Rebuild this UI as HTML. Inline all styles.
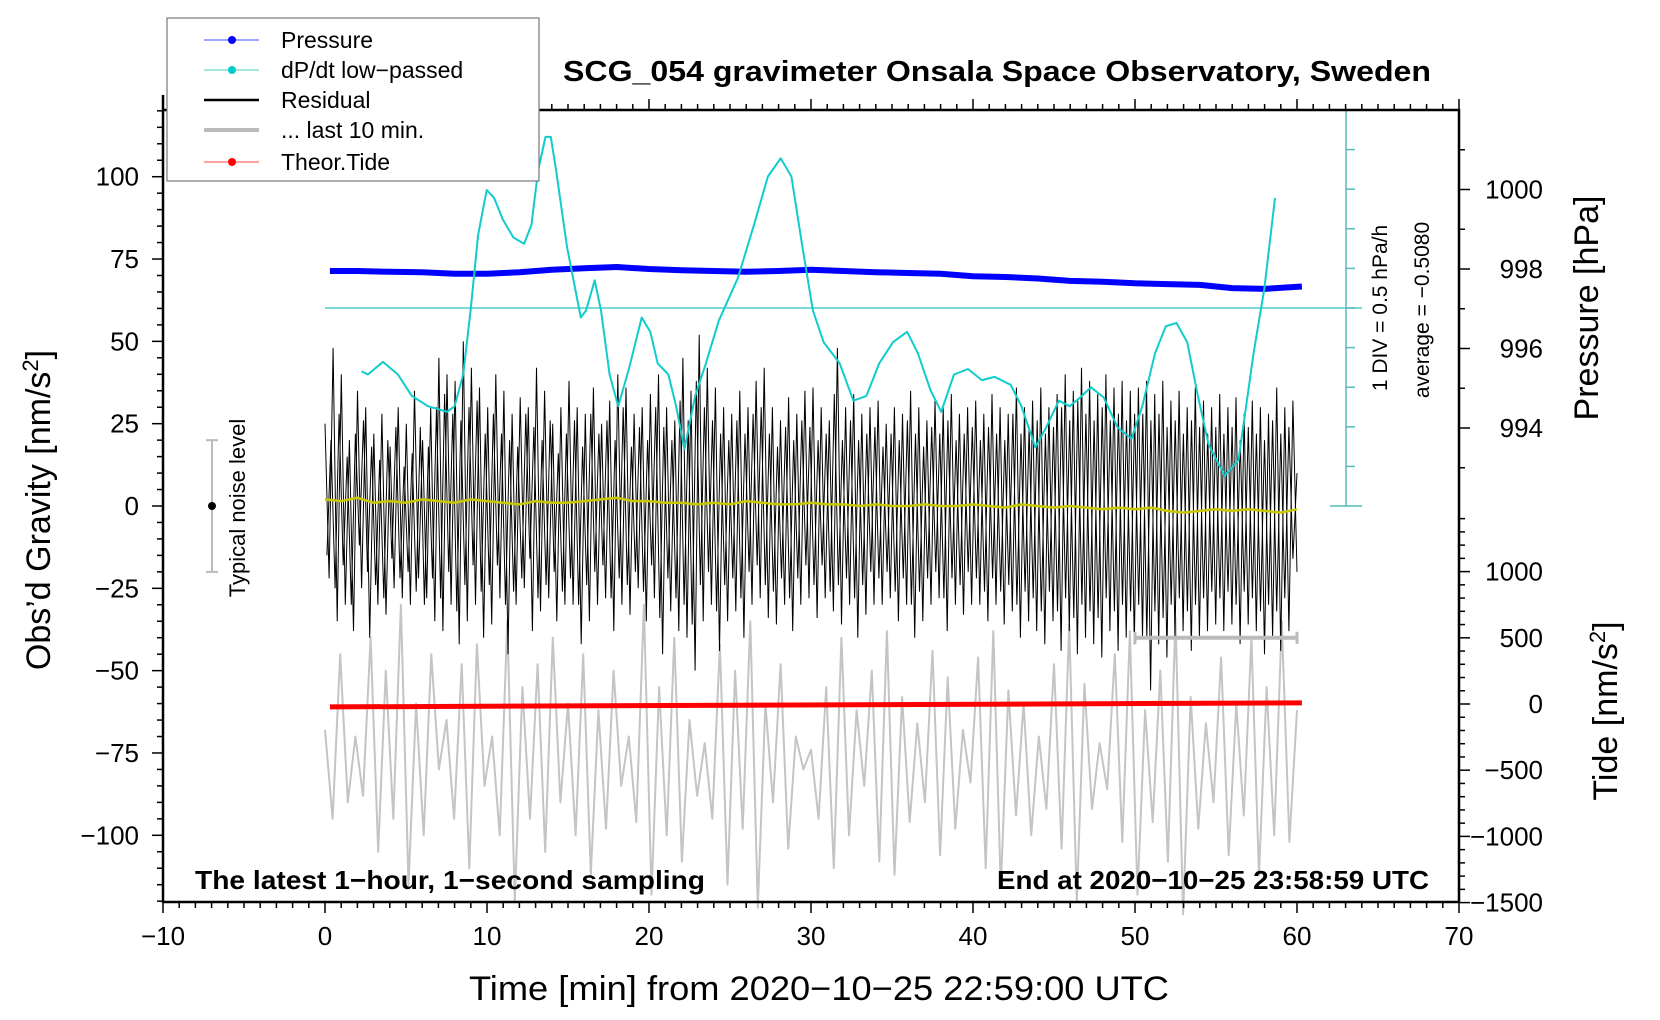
<!DOCTYPE html>
<html><head><meta charset="utf-8"><title>SCG_054 gravimeter</title>
<style>html,body{margin:0;padding:0;background:#fff}svg{display:block;font-family:"Liberation Sans",Arial,sans-serif}</style>
</head><body>
<svg id="chart" width="1660" height="1020" viewBox="0 0 1660 1020" xmlns="http://www.w3.org/2000/svg">
<rect x="0" y="0" width="1660" height="1020" fill="#fff"/>
<g id="marks"></g>
<g id="axes"></g>
<text x="997" y="81" text-anchor="middle" font-size="29" font-weight="bold" textLength="868" lengthAdjust="spacingAndGlyphs">SCG_054 gravimeter Onsala Space Observatory, Sweden</text>
<text x="819" y="1000" text-anchor="middle" font-size="34" textLength="700" lengthAdjust="spacingAndGlyphs">Time [min] from 2020−10−25 22:59:00 UTC</text>
<text transform="translate(50,510) rotate(-90)" text-anchor="middle" font-size="34">Obs’d Gravity [nm/s<tspan baseline-shift="super" font-size="22">2</tspan>]</text>
<text transform="translate(1598,308) rotate(-90)" text-anchor="middle" font-size="34">Pressure [hPa]</text>
<text transform="translate(1617,711) rotate(-90)" text-anchor="middle" font-size="34">Tide [nm/s<tspan baseline-shift="super" font-size="22">2</tspan>]</text>
<text x="195" y="897" font-size="26" font-weight="bold" textLength="510" lengthAdjust="spacingAndGlyphs" dy="-8">The latest 1−hour, 1−second sampling</text>
<text x="1429" y="889" text-anchor="end" font-size="26" font-weight="bold" textLength="432" lengthAdjust="spacingAndGlyphs">End at 2020−10−25 23:58:59 UTC</text>
<text transform="translate(1387,308) rotate(-90)" text-anchor="middle" font-size="21">1 DIV = 0.5 hPa/h</text>
<text transform="translate(1429,310) rotate(-90)" text-anchor="middle" font-size="21">average = −0.5080</text>
<text transform="translate(245,508) rotate(-90)" text-anchor="middle" font-size="22">Typical noise level</text>
<g>
<rect x="167" y="18" width="372" height="163" fill="#fff" stroke="#777" stroke-width="1.2"/>
<g><line x1="204" y1="40" x2="259" y2="40" stroke="#44f" stroke-width="1"/><circle cx="232" cy="40" r="4" fill="#00f"/><text x="281" y="48" font-size="23">Pressure</text></g>
<g><line x1="204" y1="70" x2="259" y2="70" stroke="#4cc" stroke-width="1"/><circle cx="232" cy="70" r="4" fill="#0cc"/><text x="281" y="78" font-size="23">dP/dt low−passed</text></g>
<g><line x1="204" y1="100" x2="259" y2="100" stroke="#000" stroke-width="2.5"/><text x="281" y="108" font-size="23">Residual</text></g>
<g><line x1="204" y1="130" x2="259" y2="130" stroke="#bbb" stroke-width="4"/><text x="281" y="138" font-size="23">... last 10 min.</text></g>
<g><line x1="204" y1="162" x2="259" y2="162" stroke="#f44" stroke-width="1"/><circle cx="232" cy="162" r="4" fill="#f00"/><text x="281" y="170" font-size="23">Theor.Tide</text></g>
</g>
</svg>
<script>
// ---- data ----
const pressureTimes = [0.3,2,4,6,8,10,12,14,16,18,20,22,24,26,28,30,32,34,36,38,40,42,44,46,48,50,52,54,56,58,60.3];
const pressureValues = [997.95,997.95,997.93,997.92,997.88,997.88,997.92,997.98,998.02,998.05,998.0,997.97,997.95,997.93,997.95,997.98,997.95,997.92,997.9,997.88,997.82,997.8,997.76,997.7,997.68,997.64,997.62,997.6,997.52,997.5,997.56];
const dpTimes = [2.26,2.65,3.58,4.5,5.36,6.35,7.54,8.0,8.53,8.99,9.45,9.98,10.44,10.97,11.63,12.29,12.75,13.15,13.61,13.94,14.27,14.93,15.79,16.12,16.65,17.04,17.57,18.1,18.76,19.55,20.08,20.54,21.2,21.67,22.19,22.85,23.51,24.31,25.49,26.48,27.34,28.13,28.79,29.46,30.12,30.78,31.77,32.62,33.42,34.21,35.07,35.93,36.59,37.38,38.04,38.83,39.69,40.55,41.34,42.33,42.99,43.85,44.51,45.3,45.96,46.62,47.28,48.07,48.93,49.79,50.45,51.24,51.9,52.56,53.22,53.88,54.54,55.53,56.39,57.32,57.98,58.64];
const dpValues = [-0.8,-0.84,-0.68,-0.84,-1.11,-1.24,-1.31,-1.24,-0.84,-0.03,0.92,1.49,1.39,1.12,0.89,0.81,1.05,1.73,2.16,2.16,1.73,0.78,-0.12,-0.03,0.35,-0.03,-0.84,-1.24,-0.77,-0.12,-0.3,-0.7,-0.84,-1.24,-1.78,-1.11,-0.7,-0.16,0.38,1.05,1.66,1.89,1.66,0.78,-0.03,-0.43,-0.7,-1.17,-1.11,-0.7,-0.43,-0.3,-0.57,-1.04,-1.31,-0.84,-0.77,-0.91,-0.87,-0.97,-1.24,-1.76,-1.51,-1.17,-1.24,-1.13,-1.0,-1.13,-1.51,-1.65,-1.24,-0.57,-0.23,-0.19,-0.43,-1.11,-1.72,-2.12,-1.92,-0.57,0.24,1.39];
const residualValues = [25,-22,48,-35,40,-30,20,-38,35,-25,30,-40,22,-30,28,-33,18,-25,30,-28,
25,-30,35,-22,20,-28,30,-35,45,-38,40,-30,38,-42,50,-35,42,-30,36,-40,
30,-36,40,-28,35,-45,28,-30,33,-25,30,-38,42,-32,35,-28,25,-35,30,-30,
38,-30,30,-42,28,-35,36,-30,25,-28,32,-38,40,-30,36,-33,28,-25,30,-35,
34,-28,40,-45,30,-32,26,-38,45,-40,35,-50,52,-35,42,-30,36,-44,30,-35,
28,-32,35,-40,30,-30,38,-28,42,-34,30,-36,26,-30,33,-38,28,-30,35,-28,
36,-34,30,-28,26,-32,48,-36,30,-30,34,-40,28,-33,30,-30,32,-30,25,-28,
30,-35,28,-30,35,-40,30,-35,26,-30,32,-28,30,-38,34,-30,28,-33,30,-30,
32,-30,28,-35,34,-30,30,-36,28,-32,36,-40,30,-35,32,-38,36,-42,30,-35,
34,-44,40,-38,35,-45,42,-40,38,-42,34,-46,40,-38,36,-44,38,-40,35,-42,
36,-40,38,-56,34,-42,38,-46,32,-40,35,-38,30,-44,36,-40,32,-38,30,-36,
34,-38,30,-36,33,-42,28,-36,32,-38,30,-45,28,-40,36,-44,30,-38,32,-20];
const residualMidValues = [-15,20,-25,28,-18,15,-30,22,-12,26,-20,18,-24,14,-28,20,-16,24,-22,12,
-20,16,-26,24,-30,18,-22,30,-28,34,-20,28,-32,26,-24,30,-18,32,-26,22,
-24,28,-18,22,-30,20,-26,18,-22,28,-16,24,-28,20,-24,26,-20,16,-26,22,
-22,26,-30,18,-24,28,-20,22,-18,26,-28,20,-22,30,-24,18,-20,24,-26,20,
-18,30,-34,24,-22,20,-28,32,-30,26,-36,38,-24,30,-20,26,-32,22,-24,20,
-22,26,-28,22,-20,28,-18,30,-24,22,-26,18,-22,24,-28,20,-22,26,-18,24,
-24,20,-18,22,-26,34,-24,20,-22,26,-28,20,-24,22,-20,24,-22,18,-20,22,
-26,20,-22,26,-30,22,-26,18,-22,24,-20,22,-28,26,-22,20,-24,22,-20,24,
-22,20,-26,24,-22,22,-26,20,-24,28,-30,22,-26,24,-28,26,-32,22,-26,24,
-32,30,-28,26,-34,32,-30,28,-32,26,-34,30,-28,26,-32,28,-30,26,-32,28,
-30,28,-40,26,-32,28,-34,24,-30,26,-28,22,-32,26,-30,24,-28,22,-26,24,
-28,22,-26,24,-30,20,-26,24,-28,22,-32,20,-30,26,-32,22,-28,24,-16,10];
const smoothValues = [2,1.5,2.5,1,1.5,1,2,1.5,1,2,1.5,1,0.5,1.5,1,1,1.5,2,2.5,1.5,1.5,1,1,0.5,1,0.5,1.5,1,0.5,0.5,1,0.5,0.5,0,0.5,0,0,0.5,0,0,0.5,0,-0.5,0.5,0,-0.5,0,-0.5,-1,-0.5,-1,-0.5,-1.5,-2,-1.5,-1,-1.5,-1,-1.5,-2,-1];
const last10Values = [-68,-95,-45,-90,-70,-88,-40,-105,-50,-95,-30,-115,-60,-100,-45,-80,-65,-95,-48,-110,
-42,-85,-70,-100,-35,-120,-55,-95,-48,-105,-40,-90,-60,-100,-45,-112,-62,-98,-50,-85,
-70,-96,-30,-118,-55,-100,-40,-108,-65,-88,-72,-95,-42,-115,-50,-98,-35,-122,-60,-90,
-48,-104,-70,-80,-74,-95,-55,-110,-40,-100,-62,-85,-50,-108,-38,-112,-58,-96,-66,-90,
-44,-106,-52,-98,-68,-84,-46,-110,-38,-116,-56,-94,-60,-100,-70,-92,-48,-104,-36,-120,
-54,-92,-72,-86,-45,-102,-38,-118,-62,-96,-50,-108,-34,-124,-58,-98,-66,-90,-46,-106,
-60,-94,-40,-112,-55,-100,-35,-102,-62];
const tideTimes = [0.3,60.3];
const tideValues = [-22,8];
const xTicks = [-10,0,10,20,30,40,50,60,70];
const gravityTicks = [-100,-75,-50,-25,0,25,50,75,100];
const pressureTicks = [994,996,998,1000];
const tideTicks = [-1500,-1000,-500,0,500,1000];

// ---- scales ----
const X = t => 325 + 16.2 * t;
const YG = g => 506 - 3.293 * g;
const YP = p => 269 - 39.75 * (p - 998);
const YT = v => 704 - 0.1324 * v;
const YD = v => 308 - 79.2 * v;
const NS = 'http://www.w3.org/2000/svg';
const marks = document.getElementById('marks');
const axes = document.getElementById('axes');
function mk(tag, parent, attrs) { const e = document.createElementNS(NS, tag); for (const k in attrs) e.setAttribute(k, attrs[k]); parent.appendChild(e); return e; }
function pts(ts, vs, yf) { return ts.map((t, i) => X(t).toFixed(1) + ',' + yf(vs[i]).toFixed(1)).join(' '); }
const lin = (n, a, b) => Array.from({length: n}, (_, i) => a + (b - a) * i / (n - 1));

let e = mk('polyline', marks, {points: pts(lin(last10Values.length, 0, 60), last10Values, YG), fill: 'none', stroke: '#c4c4c4', 'stroke-width': 2, 'stroke-linejoin': 'round'});


e = mk('polyline', marks, {points: pts(lin(residualValues.length, 0, 60), residualValues, YG), fill: 'none', stroke: '#000', 'stroke-width': 1});


e = mk('polyline', marks, {points: pts(lin(residualMidValues.length, 0.12, 60), residualMidValues, YG), fill: 'none', stroke: '#000', 'stroke-width': 1});


e = mk('polyline', marks, {points: pts(lin(smoothValues.length, 0, 60), smoothValues, YG), fill: 'none', stroke: '#c8c800', 'stroke-width': 2.5});


e = mk('polyline', marks, {points: pts(tideTimes, tideValues, YT), fill: 'none', stroke: '#f00', 'stroke-width': 5});


e = mk('polyline', marks, {points: pts(pressureTimes, pressureValues, YP), fill: 'none', stroke: '#00f', 'stroke-width': 6, 'stroke-linejoin': 'round'});


e = mk('line', marks, {x1: X(0), y1: YD(0), x2: 1362, y2: YD(0), stroke: '#5cc', 'stroke-width': 1.5});


e = mk('polyline', marks, {points: pts(dpTimes, dpValues, YD), fill: 'none', stroke: '#1cc', 'stroke-width': 2, 'stroke-linejoin': 'round'});


const dg = mk('g', marks, {});


mk('line', dg, {x1: 1346, y1: YD(2.5), x2: 1346, y2: YD(-2.5), stroke: '#5bb', 'stroke-width': 1.5});
mk('line', dg, {x1: 1330, y1: YD(2.5), x2: 1362, y2: YD(2.5), stroke: '#5bb', 'stroke-width': 1.5});
mk('line', dg, {x1: 1330, y1: YD(-2.5), x2: 1362, y2: YD(-2.5), stroke: '#5bb', 'stroke-width': 1.5});
for (let v = -2; v <= 2; v += 0.5) mk('line', dg, {x1: 1346, y1: YD(v), x2: 1355, y2: YD(v), stroke: '#5bb', 'stroke-width': 1.5});
const nb = mk('g', marks, {});


mk('line', nb, {x1: 212, y1: YG(20), x2: 212, y2: YG(-20), stroke: '#bbb', 'stroke-width': 2});
mk('line', nb, {x1: 206, y1: YG(20), x2: 218, y2: YG(20), stroke: '#bbb', 'stroke-width': 2});
mk('line', nb, {x1: 206, y1: YG(-20), x2: 218, y2: YG(-20), stroke: '#bbb', 'stroke-width': 2});
mk('circle', nb, {cx: 212, cy: YG(0), r: 4, fill: '#000'});
const lm = mk('g', marks, {});


mk('line', lm, {x1: X(50), y1: YT(500), x2: X(60), y2: YT(500), stroke: '#bbb', 'stroke-width': 4});
mk('line', lm, {x1: X(50), y1: YT(500) - 6, x2: X(50), y2: YT(500) + 6, stroke: '#bbb', 'stroke-width': 3});
mk('line', lm, {x1: X(60), y1: YT(500) - 6, x2: X(60), y2: YT(500) + 6, stroke: '#bbb', 'stroke-width': 3});

// ---- axes ----
const L = 163, R = 1459, T = 110, B = 902;
mk('line', axes, {x1: L, y1: 95, x2: L, y2: B + 1, stroke: '#000', 'stroke-width': 2.5});
mk('line', axes, {x1: R, y1: T - 1, x2: R, y2: B + 1, stroke: '#000', 'stroke-width': 2.5});
mk('line', axes, {x1: L, y1: T, x2: R, y2: T, stroke: '#000', 'stroke-width': 2.5});
mk('line', axes, {x1: L, y1: B, x2: R, y2: B, stroke: '#000', 'stroke-width': 2.5});
const tk = (x1, y1, x2, y2) => mk('line', axes, {x1, y1, x2, y2, stroke: '#000', 'stroke-width': 1.5});
for (let t = -10; t <= 70; t++) { const len = t % 10 === 0 ? 11 : 6; tk(X(t), B, X(t), B + len); tk(X(t), T, X(t), T - len); }
xTicks.forEach(t => { const s = mk('text', axes, {x: X(t), y: 945, 'text-anchor': 'middle', 'font-size': 26}); s.textContent = String(t).replace('-', '−');   });
for (let g = -120; g <= 120; g += 5) { const len = g % 25 === 0 ? 11 : 6; tk(L - len, YG(g), L, YG(g)); }
gravityTicks.forEach(g => { const s = mk('text', axes, {x: 139, y: YG(g) + 9, 'text-anchor': 'end', 'font-size': 26}); s.textContent = String(g).replace('-', '−');   });
for (let p = 993; p <= 1001; p++) { const len = p % 2 === 0 ? 11 : 6; tk(R, YP(p), R + len, YP(p)); }
pressureTicks.forEach(p => { const s = mk('text', axes, {x: 1543, y: YP(p) + 9, 'text-anchor': 'end', 'font-size': 26}); s.textContent = String(p);   });
for (let v = -1500; v <= 1400; v += 100) { const len = v % 500 === 0 ? 11 : 6; tk(R, YT(v), R + len, YT(v)); }
tideTicks.forEach(v => { const s = mk('text', axes, {x: 1543, y: YT(v) + 9, 'text-anchor': 'end', 'font-size': 26}); s.textContent = String(v).replace('-', '−');   });
</script>
</body></html>
